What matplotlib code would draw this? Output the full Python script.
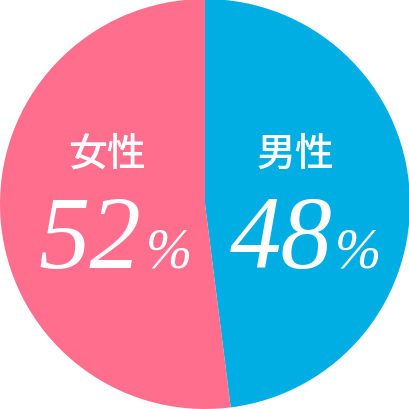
import matplotlib
matplotlib.use('Agg')
import matplotlib.pyplot as plt

# datos del gráfico
labels = ['男性', '女性']
values = [48, 52]
colors = ['#00AEE4', '#FF6E8C']

fig = plt.figure(figsize=(4.1, 4.1), dpi=100)
ax = fig.add_axes([0, 0, 1, 1])
ax.pie(values, colors=colors, startangle=90, counterclock=False,
       radius=1.0, wedgeprops={'linewidth': 0})
ax.set_xlim(-1, 1)
ax.set_ylim(-1, 1)
ax.set_aspect('equal')
ax.axis('off')

jp = ['Noto Sans CJK JP', 'DejaVu Sans']
num_font = ['Liberation Serif', 'DejaVu Serif']

# etiquetas (hombre, mujer)
pos = {
    '男性': (0.439, 0.244, 0.620, 0.634),
    '女性': (-0.478, 0.244, -0.312, -0.288),
}
for lab, val in zip(labels, values):
    lx, ly, nx, px = pos[lab]
    ax.text(lx, ly, lab, color='white', fontsize=28, family=jp,
            weight='medium', ha='center', va='center')
    ax.text(nx, -0.307, str(val), color='white', fontsize=74, family=num_font,
            style='italic', ha='right', va='baseline')
    ax.text(px, -0.307, '%', color='white', fontsize=40, family=num_font,
            style='italic', ha='left', va='baseline')

fig.savefig('out.png', dpi=100, facecolor='white')
